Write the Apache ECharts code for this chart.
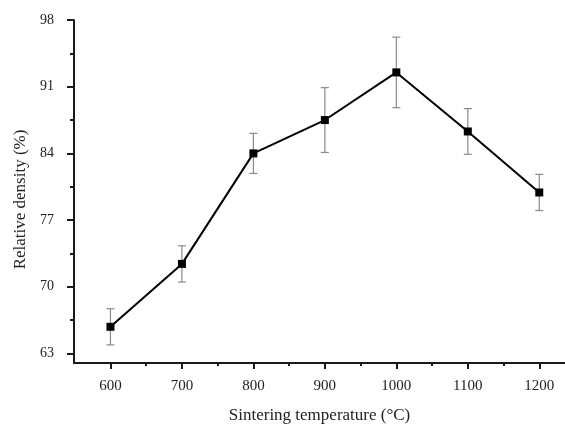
<!DOCTYPE html>
<html>
<head>
<meta charset="utf-8">
<script src="https://cdn.jsdelivr.net/npm/echarts@6/dist/echarts.min.js"></script>
<style>
  html, body { margin: 0; padding: 0; background: #fff; }
  #chart { width: 565px; height: 425px; }
</style>
</head>
<body>
<div id="chart"></div>
<script>
// 烧结温度 (°C)
const temps = [600, 700, 800, 900, 1000, 1100, 1200];
// 相对密度 (%)
const density = [65.8, 72.4, 84.0, 87.5, 92.5, 86.3, 79.9];
// 误差 (±)
const errors = [1.9, 1.9, 2.1, 3.4, 3.7, 2.4, 1.9];

const xMajor = [600, 700, 800, 900, 1000, 1100, 1200];
const xMinor = [650, 750, 850, 950, 1050, 1150];
const yMajor = [63, 70, 77, 84, 91, 98];
const yMinor = [66.5, 73.5, 80.5, 87.5, 94.5];

const font = '"Liberation Serif", "DejaVu Serif", serif';
const axisColor = '#1a1a1a';

let chart = echarts.init(document.getElementById('chart'));

let lineData = temps.map((t, i) => [t, density[i]]);
let errData = temps.map((t, i) => [t, density[i] - errors[i], density[i] + errors[i]]);

// 误差线
function renderError(params, api) {
  let lo = api.coord([api.value(0), api.value(1)]);
  let hi = api.coord([api.value(0), api.value(2)]);
  let cap = 4;
  let style = { stroke: '#8a8a8a', lineWidth: 1.2 };
  return {
    type: 'group',
    children: [
      { type: 'line', shape: { x1: lo[0], y1: lo[1], x2: hi[0], y2: hi[1] }, style: style },
      { type: 'line', shape: { x1: lo[0] - cap, y1: lo[1], x2: lo[0] + cap, y2: lo[1] }, style: style },
      { type: 'line', shape: { x1: hi[0] - cap, y1: hi[1], x2: hi[0] + cap, y2: hi[1] }, style: style }
    ]
  };
}

let option = {
  animation: false,
  backgroundColor: '#fff',
  grid: { left: 74, top: 20, right: 0, bottom: 62, containLabel: false, outerBoundsMode: 'none' },
  xAxis: [
    {
      type: 'value',
      min: 549,
      max: 1236,
      name: 'Sintering temperature (°C)',
      nameLocation: 'middle',
      nameGap: 44,
      nameTextStyle: { fontFamily: font, fontSize: 17, color: '#222' },
      axisLine: { show: true, lineStyle: { color: axisColor, width: 2 } },
      axisTick: { show: true, customValues: xMajor, length: 6, lineStyle: { color: axisColor, width: 2 } },
      axisLabel: {
        customValues: xMajor,
        formatter: (v) => String(v),
        fontFamily: font, fontSize: 15, color: '#222', margin: 16
      },
      splitLine: { show: false }
    },
    {
      // 次刻度
      type: 'value',
      min: 549,
      max: 1236,
      position: 'bottom',
      axisLine: { show: false },
      axisTick: { show: true, customValues: xMinor, length: 3, lineStyle: { color: axisColor, width: 2 } },
      axisLabel: { show: false },
      splitLine: { show: false }
    }
  ],
  yAxis: [
    {
      type: 'value',
      min: 62,
      max: 98,
      name: 'Relative density (%)',
      nameLocation: 'middle',
      nameGap: 45,
      nameTextStyle: { fontFamily: font, fontSize: 17, color: '#222', padding: [0, 16, 0, 0] },
      axisLine: { show: true, lineStyle: { color: axisColor, width: 2 } },
      axisTick: { show: true, customValues: yMajor, length: 7, lineStyle: { color: axisColor, width: 2 } },
      axisLabel: {
        customValues: yMajor,
        formatter: (v) => String(v),
        fontFamily: font, fontSize: 14, color: '#222', margin: 20
      },
      splitLine: { show: false }
    },
    {
      type: 'value',
      min: 62,
      max: 98,
      position: 'left',
      axisLine: { show: false },
      axisTick: { show: true, customValues: yMinor, length: 4, lineStyle: { color: axisColor, width: 2 } },
      axisLabel: { show: false },
      splitLine: { show: false }
    }
  ],
  series: [
    {
      type: 'custom',
      renderItem: renderError,
      data: errData,
      encode: { x: 0, y: [1, 2] },
      z: 1
    },
    {
      type: 'line',
      data: lineData,
      symbol: 'rect',
      symbolSize: 8,
      itemStyle: { color: '#000' },
      lineStyle: { color: '#000', width: 2 },
      z: 3
    }
  ]
};

chart.setOption(option);
</script>
</body>
</html>
